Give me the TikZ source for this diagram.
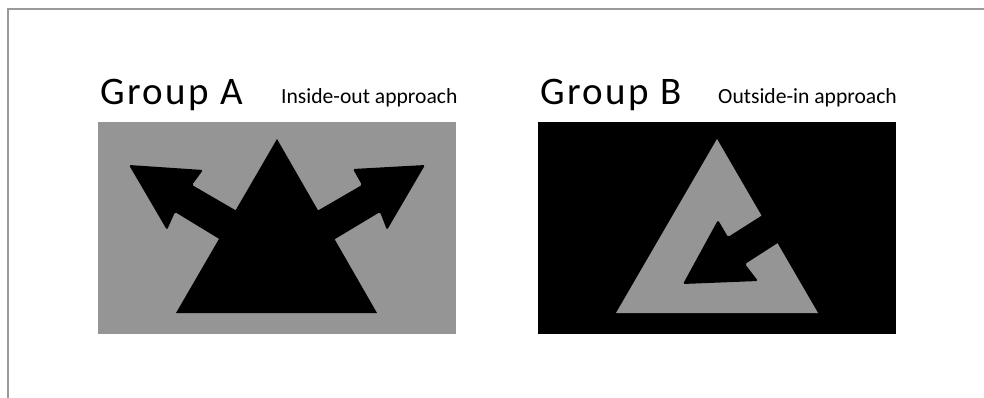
\documentclass[tikz,border=0pt]{standalone}
\usepackage{fontspec}
\setmainfont{Carlito}
\newfontfamily\titlefont[LetterSpace=6.2]{Carlito}
\definecolor{midgray}{HTML}{959595}
\definecolor{framegray}{HTML}{9A9A9A}
\begin{document}
\begin{tikzpicture}[x=1pt,y=-1pt,
  title/.style={anchor=base west,inner sep=0pt,font=\titlefont\fontsize{39}{39}\selectfont},
  subtitle/.style={anchor=base west,inner sep=0pt,font=\fontsize{21.6}{21.6}\selectfont},
  arrowshape/.style={draw=none,rounded corners=1.5pt}]
\useasboundingbox (0,0) rectangle (984,398);
\fill[white] (0,0) rectangle (984,398);
% frame
\draw[framegray,line width=2pt] (7.5,398) -- (7.5,9.5) -- (984,9.5);
% titles
\node[title] (ga) at (100,105) {Group A};
\node[subtitle] (sa) at (281,103.5) {Inside-out approach};
\node[title] (gb) at (540,105) {Group B};
\node[subtitle] (sb) at (718,103.5) {Outside-in approach};
% panel A
\fill[midgray] (98,122) rectangle (456,334);
\fill[black,arrowshape] (129,165) -- (203,170) -- (192,185) -- (261,225) -- (244,254) -- (175,212) -- (167,230) -- cycle;
\fill[black,arrowshape] (425,165) -- (353,169) -- (362,185) -- (293,225) -- (310,254) -- (380,212) -- (387,230) -- cycle;
\fill[black] (277,139) -- (176,313) -- (377,313) -- cycle;
% panel B
\fill[black] (538,122) rectangle (896,334);
\fill[midgray] (717,139) -- (616,313) -- (818,313) -- cycle;
\fill[black,arrowshape] (683,284) -- (718,220) -- (728,237) -- (769,211) -- (787,237) -- (745,264) -- (758,281) -- cycle;
\end{tikzpicture}
\end{document}
